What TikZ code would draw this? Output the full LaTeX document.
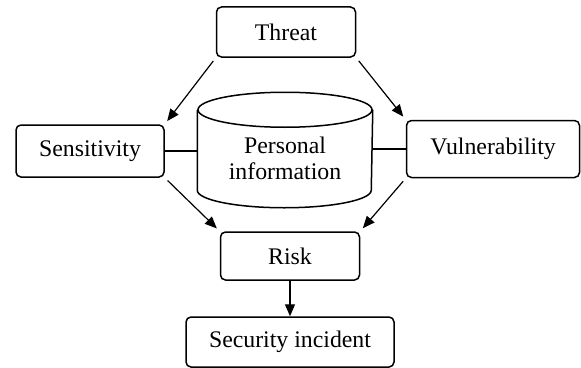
\documentclass[tikz,border=0pt]{standalone}
\usepackage{fontspec}
\setmainfont{Liberation Serif}
\usetikzlibrary{arrows.meta, positioning}

\begin{document}
\begin{tikzpicture}[x=0.5pt, y=0.5pt,
        box/.style={draw, line width=0.75pt, rounded corners=2.5pt,
                    align=center, font=\fontsize{11.9}{13}\selectfont},
        arr/.style={-{Triangle[length=6pt, width=5pt]}, line width=0.6pt,
                    shorten <=2pt, shorten >=2pt},
        link/.style={line width=0.6pt}
      ]
        \fill[white] (0,0) rectangle (581,367);
        \node[box, minimum width=69.5pt, minimum height=25pt] (threat) at (286,335) {Threat};
        \node[box, minimum width=74pt, minimum height=26pt] (sens) at (90,216) {Sensitivity};
        \node[box, minimum width=86.5pt, minimum height=28.5pt] (vuln) at (493,218) {Vulnerability};
        \node[box, minimum width=69.5pt, minimum height=24pt] (risk) at (290,111) {Risk};
        \node[box, minimum width=104pt, minimum height=25pt] (incident) at (290,25) {Security incident};
        % data store in the middle
        \node[box, draw=none, minimum width=87pt, minimum height=48.25pt] (pi) at (285,208.25)
          {Personal\\information};
        \draw[line width=0.75pt] (pi.north west) -- ([yshift=8.75pt]pi.south west)
          arc[start angle=180, end angle=360, x radius=43.5pt, y radius=8.75pt]
          -- (pi.north east);
        \draw[line width=0.75pt] (pi.north) ellipse [x radius=43.5pt, y radius=8.75pt];
        \draw[arr] (threat.south west) -- (sens.north east);
        \draw[arr] (threat.south east) -- (vuln.north west);
        \draw[arr] (sens.south east) -- (risk.north west);
        \draw[arr] (vuln.south west) -- (risk.north east);
        \draw[arr, shorten <=0pt, shorten >=0pt] (risk) -- (incident);
        \draw[link] (sens.east) -- (sens.east -| pi.west);
        \draw[link] (vuln.west) -- (vuln.west -| pi.east);
      \end{tikzpicture}
\end{document}
